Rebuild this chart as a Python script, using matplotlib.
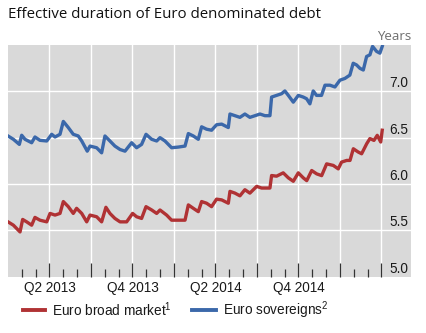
import matplotlib
matplotlib.use("Agg")
import matplotlib.pyplot as plt
from matplotlib.ticker import FixedLocator, NullFormatter
from matplotlib.lines import Line2D

# ---- data (x = months since 1 Jan 2013) ----
sov_x = [0.00, 0.39, 0.82, 0.99, 1.23, 1.71, 1.95, 2.31, 2.80, 3.16, 3.40, 3.76, 4.00, 4.36, 4.72,
         5.08, 5.33, 5.73, 5.93, 6.41, 6.77, 7.01, 7.37, 7.73, 8.10, 8.46, 8.94, 9.30, 9.66, 9.98,
         10.39, 10.75, 10.99, 11.35, 11.83, 12.31, 12.80, 13.04, 13.40, 13.76, 14.00, 14.36, 14.72,
         15.08, 15.45, 15.93, 16.05, 16.41, 16.77, 17.13, 17.49, 17.86, 18.22, 18.58, 18.94, 19.06,
         19.42, 19.78, 20.02, 20.27, 20.63, 20.99, 21.35, 21.59, 21.83, 22.07, 22.31, 22.67, 22.92,
         23.28, 23.64, 24.00, 24.36, 24.72, 24.96, 25.20, 25.45, 25.69, 25.93, 26.17, 26.36, 26.65,
         26.89, 27.06]
sov_y = [6.518, 6.482, 6.427, 6.526, 6.482, 6.445, 6.507, 6.471, 6.464, 6.536, 6.507, 6.536, 6.675,
         6.609, 6.536, 6.518, 6.464, 6.354, 6.409, 6.391, 6.336, 6.518, 6.464, 6.409, 6.372, 6.354,
         6.445, 6.391, 6.427, 6.536, 6.482, 6.464, 6.500, 6.464, 6.391, 6.398, 6.409, 6.544, 6.518,
         6.482, 6.617, 6.591, 6.580, 6.639, 6.646, 6.609, 6.755, 6.737, 6.719, 6.755, 6.719, 6.737,
         6.755, 6.737, 6.737, 6.938, 6.956, 6.974, 7.004, 6.956, 6.883, 6.956, 6.938, 6.920, 6.865,
         7.004, 6.956, 6.956, 7.066, 7.066, 7.047, 7.120, 7.139, 7.175, 7.303, 7.285, 7.248, 7.230,
         7.376, 7.394, 7.485, 7.431, 7.412, 7.485]

broad_x = [0.00, 0.39, 0.87, 1.06, 1.35, 1.71, 1.95, 2.31, 2.80, 3.04, 3.40, 3.76, 4.00, 4.36, 4.72,
           4.96, 5.33, 5.69, 5.93, 6.41, 6.77, 7.08, 7.37, 7.73, 8.10, 8.58, 9.01, 9.30, 9.66, 9.98,
           10.39, 10.75, 10.99, 11.47, 11.83, 12.31, 12.80, 13.04, 13.40, 13.76, 14.00, 14.36, 14.72,
           15.08, 15.45, 15.93, 16.05, 16.41, 16.77, 17.13, 17.49, 17.98, 18.34, 18.94, 19.06, 19.42,
           19.90, 20.27, 20.63, 20.99, 21.35, 21.60, 21.96, 22.32, 22.68, 23.04, 23.52, 23.88, 24.12,
           24.49, 24.73, 24.97, 25.33, 25.57, 25.94, 26.17, 26.46, 26.70, 26.95, 27.06]
broad_y = [5.591, 5.555, 5.482, 5.617, 5.591, 5.555, 5.639, 5.609, 5.591, 5.682, 5.664, 5.682, 5.810,
           5.755, 5.682, 5.737, 5.682, 5.591, 5.664, 5.646, 5.591, 5.748, 5.682, 5.628, 5.591, 5.591,
           5.682, 5.646, 5.628, 5.755, 5.719, 5.682, 5.719, 5.664, 5.609, 5.609, 5.609, 5.774, 5.737,
           5.701, 5.810, 5.792, 5.755, 5.836, 5.828, 5.792, 5.920, 5.901, 5.872, 5.938, 5.901, 5.974,
           5.956, 5.956, 6.091, 6.084, 6.120, 6.066, 6.029, 6.120, 6.066, 6.036, 6.145, 6.109, 6.090,
           6.217, 6.200, 6.163, 6.236, 6.254, 6.254, 6.380, 6.344, 6.326, 6.435, 6.490, 6.470, 6.525,
           6.453, 6.580]

xtick_pos = [3, 9, 15, 21]
xtick_labels = ["Q2 2013", "Q4 2013", "Q2 2014", "Q4 2014"]
ytick_vals = [5.0, 5.5, 6.0, 6.5, 7.0]
ytick_labels = ["5.0", "5.5", "6.0", "6.5", "7.0"]
series_names = ["Euro broad market", "Euro sovereigns"]
footnotes = ["1", "2"]

RED = "#B03234"
BLUE = "#3B68AA"
BG = "#D9D9D9"

plt.rcParams["font.family"] = ["Liberation Sans", "DejaVu Sans"]
plt.rcParams["mathtext.fontset"] = "custom"
plt.rcParams["mathtext.rm"] = "Liberation Sans"

W, H = 427, 333
fig = plt.figure(figsize=(W / 100, H / 100), dpi=100)
fig.patch.set_facecolor("white")

ax = fig.add_axes([8 / W, (H - 276.6) / H, (411 - 8) / W, (276.6 - 45) / H])
ax.set_facecolor(BG)
ax.set_xlim(0, 29.14)
ax.set_ylim(5.0, 7.5)
for s in ax.spines.values():
    s.set_visible(False)

ax.xaxis.set_major_locator(FixedLocator(list(range(3, 28, 3))))
ax.xaxis.set_minor_locator(FixedLocator([m for m in range(1, 27) if m % 3 != 0]))
ax.xaxis.set_major_formatter(NullFormatter())
ax.yaxis.set_major_locator(FixedLocator([5.5, 6.0, 6.5, 7.0]))
ax.yaxis.set_major_formatter(NullFormatter())
ax.tick_params(axis="x", which="major", direction="in", length=10.3, width=0.9, color="#333333",
               bottom=True, top=False)
ax.tick_params(axis="x", which="minor", direction="in", length=5.6, width=0.9, color="#333333",
               bottom=True, top=False)
ax.tick_params(axis="y", which="both", length=0, left=False, right=False)
ax.grid(True, which="major", axis="both", color="white", linewidth=1.0)
ax.set_axisbelow(True)

ax.plot(broad_x, broad_y, color=RED, lw=2.4, solid_joinstyle="round", zorder=3)
ax.plot(sov_x, sov_y, color=BLUE, lw=2.4, solid_joinstyle="round", zorder=3)

# y labels inside on the right
for v, lab in zip(ytick_vals, ytick_labels):
    ax.text(28.95, v + 0.085, lab, ha="right", va="center", fontsize=9.8, color="#1a1a1a")

# x labels
for p, lab in zip(xtick_pos, xtick_labels):
    ax.text(p, 5.0 - 0.125, lab, ha="center", va="center", fontsize=9.8, color="#1a1a1a",
            clip_on=False)

# title and unit
fig.text(8 / W, 1 - 15 / H, "Effective duration of Euro denominated debt", ha="left", va="center",
         fontsize=10.85, family=["Open Sans", "DejaVu Sans"], color="#111111")
fig.text(411 / W, 1 - 37 / H, "Years", ha="right", va="center", fontsize=9.6,
         family=["Open Sans", "DejaVu Sans"], color="#6e6e6e")

# legend
ly = 1 - 310 / H
fig.add_artist(Line2D([23 / W, 45 / W], [ly, ly], color=RED, lw=2.8, transform=fig.transFigure))
fig.text(52 / W, ly, series_names[0] + r"$^{\mathrm{" + footnotes[0] + "}}$", ha="left", va="center",
         fontsize=9.8, color="#1a1a1a")
fig.add_artist(Line2D([192 / W, 216 / W], [ly, ly], color=BLUE, lw=2.8, transform=fig.transFigure))
fig.text(223 / W, ly, series_names[1] + r"$^{\mathrm{" + footnotes[1] + "}}$", ha="left", va="center",
         fontsize=9.8, color="#1a1a1a")

fig.savefig("out.png", dpi=100, facecolor="white")
